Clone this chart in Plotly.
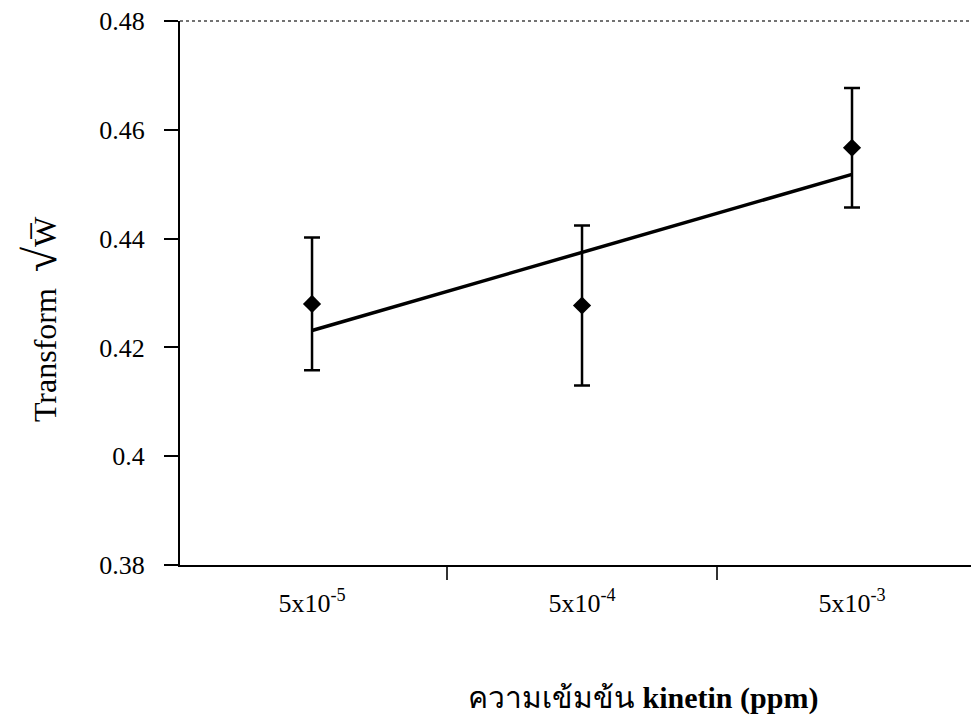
import numpy as np
import plotly.graph_objects as go

categories = ["5x10<sup>-5</sup>", "5x10<sup>-4</sup>", "5x10<sup>-3</sup>"]
means = [0.4280, 0.4277, 0.4567]
errors = [0.0122, 0.0147, 0.0110]
y_ticks = [0.38, 0.40, 0.42, 0.44, 0.46, 0.48]
y_tick_labels = ["0.38", "0.4", "0.42", "0.44", "0.46", "0.48"]

idx = np.arange(len(categories))
slope, intercept = np.polyfit(idx, means, 1)
trend = slope * idx + intercept

FONT = "Liberation Serif, Times New Roman, serif"

fig = go.Figure()
fig.add_trace(go.Scatter(
    x=categories, y=trend, mode="lines",
    line=dict(color="black", width=3.5), showlegend=False, hoverinfo="skip"))
fig.add_trace(go.Scatter(
    x=categories, y=means, mode="markers",
    marker=dict(symbol="diamond", size=14, color="black"),
    error_y=dict(type="data", array=errors, visible=True, color="black",
                 thickness=2.5, width=8),
    showlegend=False))

fig.add_shape(type="line", xref="paper", yref="paper", x0=0, x1=1, y0=1, y1=1,
              line=dict(color="#444444", width=1.5, dash="dot"))

fig.add_annotation(text="ความเข้มข้น <b>kinetin (ppm)</b>", xref="paper", yref="paper",
                   x=0.574, y=-0.2445, showarrow=False, xanchor="center", yanchor="middle",
                   font=dict(family=FONT, size=30, color="black"))
fig.add_annotation(text="Transform\u00a0\u00a0<span style='font-size:46px'>√</span>W̅",
                   xref="paper", yref="paper",
                   x=-0.1735, y=0.452, showarrow=False, textangle=-90,
                   xanchor="center", yanchor="middle",
                   font=dict(family=FONT, size=32, color="black"))

fig.update_layout(
    width=979, height=720,
    margin=dict(l=172, r=0, t=13, b=163),
    plot_bgcolor="white", paper_bgcolor="white",
    font=dict(family=FONT, size=26, color="black"),
    xaxis=dict(type="category", range=[-0.489, 2.5], tickson="boundaries",
               ticks="outside", ticklen=13, tickwidth=1.5, tickcolor="#333",
               showline=True, linecolor="black", linewidth=2,
               showgrid=False, zeroline=False, ticklabelstandoff=14,
               tickfont=dict(family=FONT, size=26, color="black")),
    yaxis=dict(range=[0.38, 0.48], tickvals=y_ticks, ticktext=y_tick_labels,
               ticks="outside", ticklen=14, tickwidth=1.5, tickcolor="black",
               showline=True, linecolor="black", linewidth=2,
               showgrid=False, zeroline=False, ticklabelstandoff=14,
               ticklabeloverflow="allow", automargin=False,
               tickfont=dict(family=FONT, size=26, color="black")),
)

fig.write_html("out.html")
